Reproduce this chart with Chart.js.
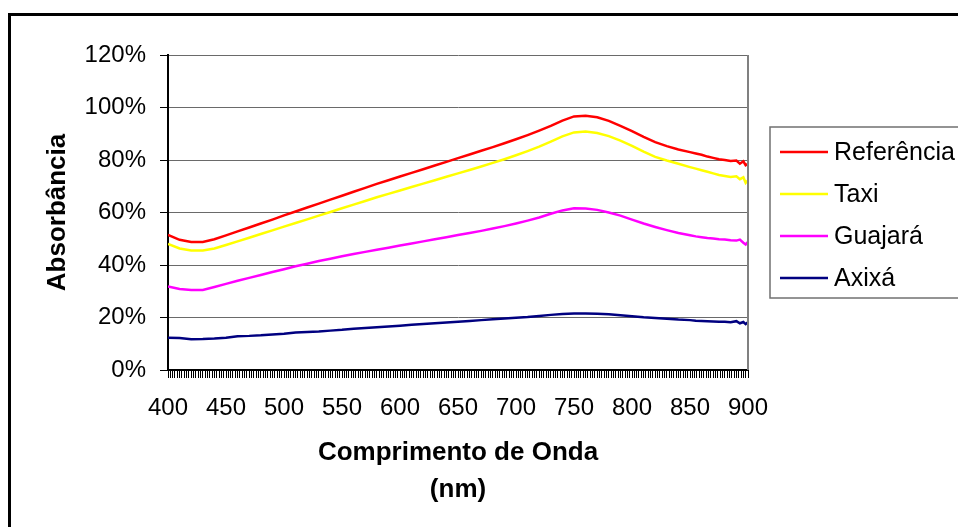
<!DOCTYPE html>
<html>
<head>
<meta charset="utf-8">
<script src="https://cdn.jsdelivr.net/npm/chart.js@4/dist/chart.umd.min.js"></script>
<style>
  html, body { margin: 0; padding: 0; background: #fff; }
  #wrap { position: relative; width: 958px; height: 527px; overflow: hidden; }
  canvas { display: block; }
</style>
</head>
<body>
<div id="wrap"><canvas id="chart" width="958" height="527"></canvas></div>
<script>
// Wavelength (nm) of each sample
const wavelengths = [
  400, 410, 420, 430, 440, 450, 460, 470, 480, 490,
  500, 510, 520, 530, 540, 550, 560, 570, 580, 590,
  600, 610, 620, 630, 640, 650, 660, 670, 680, 690,
  700, 710, 720, 730, 740, 750, 760, 770, 780, 790,
  800, 810, 820, 830, 840, 850, 855, 860, 865, 870,
  875, 880, 885, 890, 893, 896, 898, 900
];

// Absorbance (%) per sample
const referencia = [
  51.5, 49.6, 48.8, 48.8, 49.8, 51.3, 52.8, 54.3, 55.8, 57.3,
  58.9, 60.4, 61.9, 63.4, 64.9, 66.4, 67.9, 69.4, 70.9, 72.3,
  73.7, 75.1, 76.5, 77.9, 79.3, 80.7, 82.1, 83.5, 84.9, 86.4,
  87.9, 89.5, 91.2, 93.0, 95.0, 96.6, 96.9, 96.3, 94.9, 93.0,
  91.0, 88.8, 86.8, 85.3, 84.0, 83.0, 82.5, 82.0, 81.3, 80.8,
  80.3, 80.0, 79.6, 79.8, 78.6, 79.5, 78.0, 78.5
];
const taxi = [
  48.0, 46.3, 45.5, 45.5, 46.3, 47.6, 49.0, 50.4, 51.8, 53.2,
  54.6, 56.0, 57.4, 58.8, 60.2, 61.6, 63.0, 64.4, 65.8, 67.1,
  68.4, 69.7, 71.0, 72.3, 73.6, 74.9, 76.2, 77.5, 78.9, 80.3,
  81.8, 83.4, 85.1, 87.0, 89.0, 90.5, 90.9, 90.3, 89.1, 87.4,
  85.4, 83.2, 81.2, 79.8, 78.6, 77.3, 76.7, 76.1, 75.5, 74.9,
  74.3, 73.9, 73.5, 73.8, 72.7, 73.4, 71.3, 72.3
];
const guajara = [
  31.8, 30.9, 30.5, 30.5, 31.6, 32.8, 34.0, 35.1, 36.2, 37.3,
  38.4, 39.5, 40.5, 41.5, 42.4, 43.3, 44.2, 45.0, 45.8, 46.6,
  47.4, 48.2, 49.0, 49.8, 50.6, 51.4, 52.2, 53.0, 53.9, 54.8,
  55.8, 56.9, 58.1, 59.5, 60.8, 61.6, 61.5, 61.0, 60.0, 58.8,
  57.3, 55.8, 54.5, 53.3, 52.2, 51.3, 50.9, 50.6, 50.3, 50.1,
  49.8, 49.7, 49.4, 49.3, 49.7, 48.5, 47.8, 48.8
];
const axixa = [
  12.3, 12.2, 11.7, 11.8, 12.0, 12.3, 12.9, 13.0, 13.2, 13.5,
  13.8, 14.3, 14.5, 14.7, 15.0, 15.3, 15.7, 16.0, 16.3, 16.6,
  16.9, 17.2, 17.5, 17.8, 18.1, 18.4, 18.7, 19.0, 19.3, 19.6,
  19.9, 20.2, 20.6, 21.0, 21.3, 21.5, 21.5, 21.4, 21.2, 20.9,
  20.5, 20.1, 19.8, 19.5, 19.2, 19.0, 18.8, 18.7, 18.6, 18.5,
  18.4, 18.4, 18.2, 18.6, 17.8, 18.3, 17.5, 18.2
];

const seriesNames = ['Referência', 'Taxi', 'Guajará', 'Axixá'];
const seriesColors = ['#FF0000', '#FFFF00', '#FF00FF', '#000080'];
const seriesValues = [referencia, taxi, guajara, axixa];

// X tick labels shown every 50 nm; minor tick marks every 2 nm
const xLabelStep = 50;
const xTickStep = 2;
const yTickStep = 20;

const FONT = "'Liberation Sans', Arial, Helvetica, sans-serif";

// Outer frame, plot border and legend box
const decorPlugin = {
  id: 'decor',
  beforeDraw(chart) {
    const ctx = chart.ctx;
    ctx.save();
    ctx.strokeStyle = '#000';
    ctx.lineWidth = 3;
    ctx.beginPath();
    ctx.moveTo(9.5, 530);
    ctx.lineTo(9.5, 14.5);
    ctx.lineTo(960, 14.5);
    ctx.stroke();
    ctx.restore();
  },
  afterDraw(chart) {
    const ctx = chart.ctx;
    const a = chart.chartArea;
    ctx.save();
    // right border of the plot area
    ctx.strokeStyle = '#808080';
    ctx.lineWidth = 2;
    ctx.beginPath();
    ctx.moveTo(a.right, a.top);
    ctx.lineTo(a.right, a.bottom);
    ctx.stroke();

    // legend
    const bx = 770, by = 127, bw = 200, bh = 171;
    ctx.strokeStyle = '#707070';
    ctx.lineWidth = 1.5;
    ctx.fillStyle = '#fff';
    ctx.fillRect(bx, by, bw, bh);
    ctx.strokeRect(bx, by, bw, bh);
    ctx.font = '25px ' + FONT;
    ctx.textBaseline = 'middle';
    ctx.textAlign = 'left';
    chart.data.datasets.forEach((ds, i) => {
      const y = 152 + i * 42;
      ctx.strokeStyle = ds.borderColor;
      ctx.lineWidth = 2.5;
      ctx.beginPath();
      ctx.moveTo(780, y);
      ctx.lineTo(828, y);
      ctx.stroke();
      ctx.fillStyle = '#000';
      ctx.fillText(ds.label, 834, y + 1);
    });
    ctx.restore();
  }
};

new Chart(document.getElementById('chart'), {
  type: 'line',
  data: {
    datasets: seriesNames.map((name, s) => ({
      label: name,
      data: wavelengths.map((w, i) => ({ x: w, y: seriesValues[s][i] })),
      borderColor: seriesColors[s],
      backgroundColor: seriesColors[s],
      borderWidth: 2.5,
      pointRadius: 0,
      tension: 0,
      fill: false
    }))
  },
  options: {
    responsive: false,
    animation: false,
    events: [],
    layout: { padding: { left: 0, top: 55, right: 210, bottom: 17 } },
    plugins: {
      legend: { display: false },
      tooltip: { enabled: false }
    },
    scales: {
      x: {
        type: 'linear',
        min: 400,
        max: 900,
        afterFit(scale) { scale.height = 140; },
        afterBuildTicks(scale) {
          const t = [];
          for (let v = 400; v <= 900; v += xTickStep) t.push({ value: v });
          scale.ticks = t;
        },
        ticks: {
          autoSkip: false,
          maxRotation: 0,
          minRotation: 0,
          padding: 16,
          color: '#000',
          font: { family: FONT, size: 24 },
          callback: (v) => (v % xLabelStep === 0 ? String(v) : '')
        },
        grid: {
          drawOnChartArea: false,
          drawTicks: true,
          tickLength: 8,
          color: '#000',
          lineWidth: 1
        },
        border: { display: true, color: '#000', width: 2 },
        title: {
          display: true,
          text: ['Comprimento de Onda', '(nm)'],
          color: '#000',
          font: { family: FONT, size: 26, weight: 'bold', lineHeight: '37px' },
          padding: { top: 0, bottom: 2 }
        }
      },
      y: {
        min: 0,
        max: 120,
        afterFit(scale) { scale.width = 168; },
        ticks: {
          stepSize: yTickStep,
          padding: 14,
          color: '#000',
          font: { family: FONT, size: 24 },
          callback: (v) => v + '%'
        },
        grid: {
          color: '#6a6a6a',
          lineWidth: 1,
          tickLength: 8,
          tickColor: '#000'
        },
        border: { display: true, color: '#000', width: 2 },
        title: {
          display: true,
          text: 'Absorbância',
          color: '#000',
          font: { family: FONT, size: 26, weight: 'bold' },
          padding: { top: 42, bottom: 0 }
        }
      }
    }
  },
  plugins: [decorPlugin]
});
</script>
</body>
</html>
